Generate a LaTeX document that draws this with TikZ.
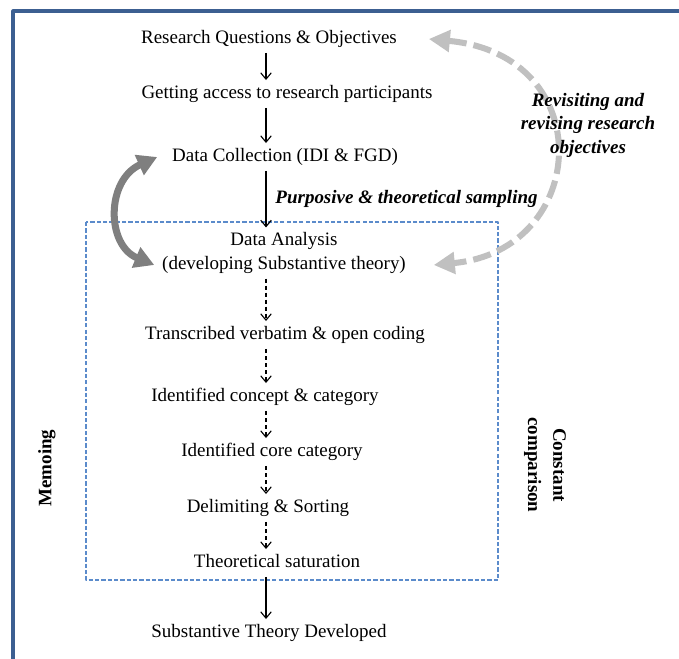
\documentclass[tikz,border=0pt]{standalone}
\usepackage{fontspec}
\setmainfont{Liberation Serif}
\usetikzlibrary{arrows.meta}
\definecolor{frameblue}{HTML}{3C5F91}
\definecolor{boxblue}{HTML}{5B8BCB}
\definecolor{lightgrey}{HTML}{C0C0C0}
\definecolor{darkgrey}{HTML}{7F7F7F}

\begin{document}
\begin{tikzpicture}[x=0.025cm,y=-0.025cm,line join=round,
  txt/.style={font=\fontsize{13.5}{17}\selectfont,text height=9pt,text depth=2.5pt,inner ysep=4pt},
  txttwo/.style={font=\fontsize{13.5}{17}\selectfont,align=center},
  lbl/.style={font=\fontsize{13.5}{16.7}\selectfont\bfseries\itshape,align=center},
  side/.style={font=\fontsize{13.5}{17.8}\selectfont\bfseries,align=center},
  flow/.style={draw,line width=0.8pt,-{Straight Barb[length=4.5pt,width=7.5pt]}},
  subflow/.style={flow,dash pattern=on 3pt off 2pt},
  revise/.style={draw=lightgrey,line width=4.3pt,dash pattern=on 13pt off 5pt,{Triangle[length=15pt,width=15pt]}-{Triangle[length=15pt,width=15pt]}},
  loopback/.style={draw=darkgrey,line width=5pt,{Triangle[length=14pt,width=15pt]}-{Triangle[length=14pt,width=15pt]}}]
\useasboundingbox (0,0) rectangle (679,659);
\draw[frameblue,line width=2.2pt] (13,659)--(13,11)--(679,11);
\coordinate (ax) at (266,0);
% main chain
\node[txt] (rq) at (269,39) {Research Questions \& Objectives};
\node[txt] (ga) at (287,94) {Getting access to research participants};
\node[txt] (dc) at (285,157) {Data Collection (IDI \& FGD)};
\node[txttwo] (da) at (284,253) {Data Analysis\\(developing Substantive theory)};
\node[txt] (tv) at (285,335) {Transcribed verbatim \& open coding};
\node[txt] (icc) at (265,397) {Identified concept \& category};
\node[txt] (ic) at (272,452) {Identified core category};
\node[txt] (ds) at (268,508) {Delimiting \& Sorting};
\node[txt] (ts) at (277,563) {Theoretical saturation};
\node[txt] (st) at (269,633) {Substantive Theory Developed};
% analysis frame
\draw[boxblue,line width=0.8pt,dash pattern=on 3pt off 1.5pt] (86,222) rectangle (498,580);
\node[side,rotate=90] (memo) at (47,468) {Memoing};
\node[side,rotate=-90] (cc) at (545,465) {Constant\\comparison};
% connectors
\foreach \a/\b in {rq/ga,ga/dc,ts/st} \draw[flow] (\a.south -| ax) -- (\b.north -| ax);
\draw[flow] (dc.south -| ax) -- node[lbl,right,xshift=3pt] (ps) {Purposive \& theoretical sampling} (da.north -| ax);
\foreach \a/\b in {da/tv,tv/icc,icc/ic,ic/ds,ds/ts} \draw[subflow] (\a.south -| ax) -- (\b.north -| ax);
\draw[revise] ([shift={(27,0)}]rq.east) .. controls (600,55) and (590,250) .. ([shift={(23,12)}]da.east);
\draw[loopback] ([shift={(-10,0)}]dc.west) .. controls (106,180) and (106,245) .. ([shift={(-3,12)}]da.west);
\node[lbl] (rev) at (588,125) {Revisiting and\\revising research\\objectives};
\end{tikzpicture}
\end{document}
